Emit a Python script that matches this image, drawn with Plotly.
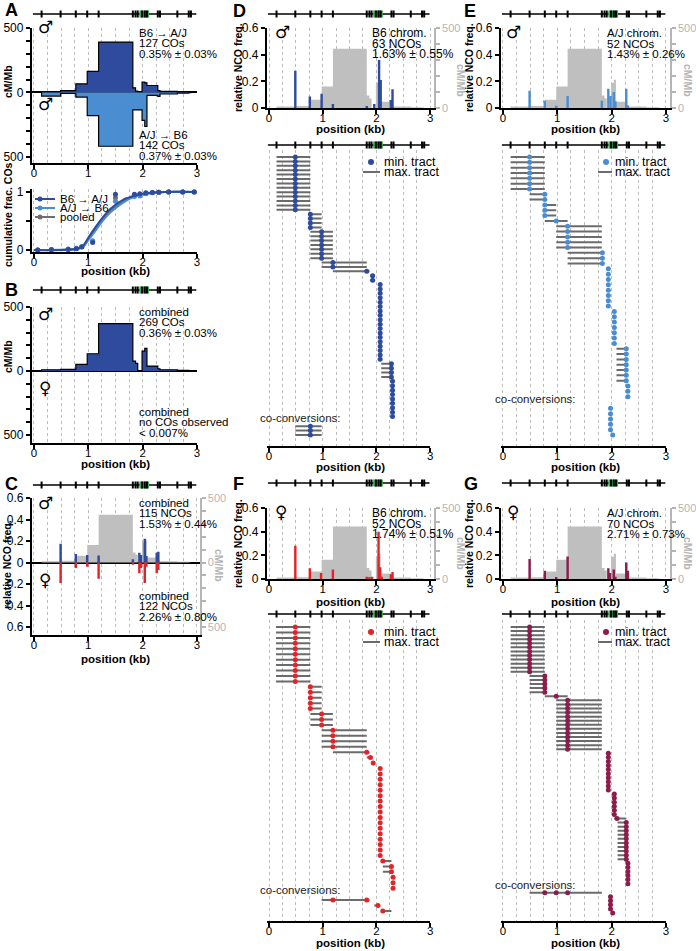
import plotly.graph_objects as go

W, H = 696, 951
FONT = "Liberation Sans, Arial, sans-serif"
SYM_FONT = "DejaVu Sans"

GRID = "#bdbdbd"
DARK_BLUE = "#2e4b9e"
LIGHT_BLUE = "#4a8dd0"
POOLED_GREY = "#6d6e71"
RED = "#e42329"
MAROON = "#8b1d4d"
MAP_GREY = "#bfbfbf"
AXIS_GREY = "#b5b5b5"
TRACT_GREY = "#6b6b6b"
HOT_GREEN = "#33b04a"

# ---------------- data ----------------
snp_kb = [0.14, 0.49, 0.77, 0.98, 1.19, 1.82, 1.87, 1.91, 1.99, 2.04, 2.08, 2.28, 2.32, 2.64, 2.85, 2.89]
hotspot_kb = [1.94, 2.12]

# CO maps (cM/Mb), bins between SNPs
map_edges = [0.14, 0.49, 0.77, 0.98, 1.19, 1.82, 1.87, 1.91, 1.99, 2.04, 2.08, 2.28, 2.32, 2.64, 2.85, 2.89]
cm_b6_to_aj = [2, 15, 67, 163, 391, 36, 10, 0, 80, 75, 54, 15, 8, 4, 2]
cm_aj_to_b6 = [28, 8, 36, 179, 417, 135, 135, 135, 217, 264, 23, 30, 12, 5, 2]
cm_combined = [10, 13, 52, 135, 370, 78, 60, 0, 156, 177, 39, 18, 10, 5, 3]

# cumulative fraction of COs
cum_fit_kb = [0.0, 0.8, 0.9, 1.0, 1.1, 1.2, 1.3, 1.4, 1.5, 1.6, 1.7, 1.8, 1.9, 2.0, 2.2, 2.4, 3.0]
cum_fit_b6_aj = [0, 0.02, 0.07, 0.21, 0.35, 0.48, 0.60, 0.70, 0.78, 0.84, 0.89, 0.92, 0.95, 0.97, 0.99, 1, 1]
cum_fit_pooled = [0, 0.02, 0.06, 0.19, 0.32, 0.45, 0.57, 0.67, 0.75, 0.81, 0.87, 0.91, 0.94, 0.96, 0.99, 1, 1]
cum_fit_aj_b6 = [0, 0.02, 0.05, 0.17, 0.29, 0.42, 0.54, 0.64, 0.72, 0.79, 0.85, 0.90, 0.93, 0.95, 0.98, 1, 1]
cum_pts_kb = [0.07, 0.32, 0.63, 0.78, 0.88, 1.08, 1.5, 1.85, 1.95, 2.06, 2.18, 2.3, 2.48, 2.74, 2.95]
cum_pts_b6_aj = [0, 0.005, 0.01, 0.02, 0.05, 0.13, 0.96, 0.96, 0.97, 0.985, 0.99, 0.995, 1, 1, 1]
cum_pts_aj_b6 = [0, 0.01, 0.015, 0.03, 0.06, 0.16, 0.84, 0.92, 0.93, 0.97, 0.985, 0.99, 1, 1, 1]
cum_pts_pooled = [0, 0.008, 0.013, 0.025, 0.055, 0.15, 0.90, 0.94, 0.95, 0.975, 0.988, 0.993, 1, 1, 1]

# relative NCO frequency
nco_c_kb = [0.49, 0.77, 0.98, 1.19, 1.82, 1.94, 1.97, 2.04, 2.07, 2.26, 2.29]
nco_c_male = [0.175, 0.08, 0.07, 0.065, 0.03, 0.09, 0.07, 0.22, 0.06, 0.09, 0.10]
nco_c_female = [0.19, 0.05, 0.04, 0.15, 0.02, 0.10, 0.05, 0.19, 0.04, 0.10, 0.07]
nco_d_kb = [0.49, 0.76, 0.98, 1.19, 1.82, 1.96, 2.05, 2.08, 2.27, 2.30]
nco_d = [0.28, 0.087, 0.107, 0.03, 0.013, 0.03, 0.36, 0.21, 0.06, 0.14]
nco_e_kb = [0.49, 0.77, 0.98, 1.19, 1.82, 1.94, 1.98, 2.04, 2.07, 2.27, 2.30]
nco_e = [0.13, 0.055, 0.017, 0.09, 0.055, 0.145, 0.09, 0.12, 0.05, 0.145, 0.017]
nco_f_kb = [0.49, 0.76, 0.97, 1.19, 1.82, 1.87, 1.92, 2.04, 2.07, 2.10, 2.27, 2.30]
nco_f = [0.28, 0.09, 0.05, 0.08, 0.02, 0.015, 0.02, 0.40, 0.10, 0.02, 0.04, 0.06]
nco_g_kb = [0.49, 0.77, 0.98, 1.19, 1.94, 1.97, 2.04, 2.07, 2.27, 2.30]
nco_g = [0.17, 0.07, 0.01, 0.19, 0.09, 0.05, 0.08, 0.02, 0.14, 0.07]

# NCO tracts: (min-tract SNPs, max-tract left, max-tract right, number of NCOs)
tracts_d = [([0.49], 0.14, 0.77, 13), ([0.77], 0.77, 0.98, 4), ([0.98], 0.77, 1.19, 7),
            ([1.19], 0.98, 1.82, 2), ([1.82], 1.19, 1.87, 1), ([1.93], 1.88, 1.96, 2),
            ([2.07], 2.07, 2.07, 18), ([2.28], 2.09, 2.28, 4), ([2.30], 2.29, 2.33, 9)]
coconv_d = [([0.77], 0.49, 0.98, 3)]
tracts_e = [([0.49], 0.14, 0.77, 7), ([0.77], 0.49, 0.77, 2), ([0.77], 0.77, 0.98, 3),
            ([0.98], 0.77, 1.19, 1), ([1.19], 0.98, 1.82, 5), ([1.83], 1.19, 1.83, 3),
            ([1.94], 1.93, 1.95, 8), ([2.05], 2.05, 2.05, 7), ([2.27], 2.09, 2.27, 7),
            ([2.30], 2.29, 2.32, 3)]
coconv_e = [([1.98], 1.97, 1.99, 5), ([2.02], 2.02, 2.02, 1)]
tracts_f = [([0.49], 0.13, 0.77, 11), ([0.77], 0.77, 0.98, 5), ([0.98], 0.77, 1.19, 3),
            ([1.19], 0.98, 1.82, 4), ([1.82], 1.19, 1.87, 1), ([1.89], 1.82, 1.91, 1),
            ([1.94], 1.91, 1.97, 1), ([2.07], 2.07, 2.07, 17), ([2.12], 2.12, 2.28, 1),
            ([2.28], 2.12, 2.28, 2), ([2.31], 2.29, 2.32, 3)]
coconv_f = [([1.19, 1.82], 0.98, 1.87, 1), ([2.03], 1.96, 2.04, 1), ([2.12], 2.12, 2.28, 1)]
tracts_g = [([0.49], 0.14, 0.77, 12), ([0.77], 0.49, 0.77, 5), ([0.98], 0.77, 1.19, 1),
            ([1.19], 0.98, 1.82, 13), ([1.94], 1.93, 1.95, 10), ([2.05], 2.05, 2.05, 6),
            ([2.10], 2.05, 2.27, 1), ([2.27], 2.11, 2.27, 10), ([2.30], 2.29, 2.32, 6)]
coconv_g = [([0.77, 0.98, 1.19], 0.49, 1.82, 1), ([1.98], 1.97, 1.99, 4), ([2.02], 2.02, 2.02, 1)]

# ---------------- layout helpers ----------------
COLS = {"L": (34.0, 54.3), "M": (269.0, 53.7), "R": (503.0, 54.3)}  # px of 0 kb, px per kb
axes = {}
shapes = []
notes = []


def ydom(top, bot):
    return [1 - bot / H, 1 - top / H]


def add_x(name, col, rng, anchor, size=11.5):
    x0, ppk = COLS[col]
    axes[name] = dict(
        domain=[(x0 + rng[0] * ppk) / W, (x0 + rng[1] * ppk) / W], range=rng, anchor=anchor,
        tickmode="array", tickvals=[0, 1, 2, 3], showline=True, linecolor="black", linewidth=2,
        ticks="outside", ticklen=4, tickwidth=1.5, tickcolor="black", ticklabelstandoff=-6,
        tickfont=dict(family=FONT, size=size, color="black"),
        showgrid=True, gridcolor=GRID, gridwidth=1, griddash="dot",
        minor=dict(tickmode="linear", tick0=0, dtick=0.25, showgrid=True, gridcolor=GRID,
                   gridwidth=1, griddash="dot"),
        zeroline=False, fixedrange=True, automargin=False)


def add_y(name, rng, vals, text, anchor, dom=None, side="left", color="black",
          overlaying=None, zero=False, size=12):
    d = dict(range=rng, anchor=anchor, side=side, tickmode="array", tickvals=vals, ticktext=text,
             showline=True, linecolor=color, linewidth=2, ticks="outside", ticklen=4,
             tickwidth=1.5, tickcolor=color, tickfont=dict(family=FONT, size=size, color=color),
             showgrid=False, zeroline=zero, zerolinecolor="black", zerolinewidth=2,
             fixedrange=True, automargin=False)
    if dom is not None:
        d["domain"] = ydom(*dom)
    if overlaying:
        d["overlaying"] = overlaying
    axes[name] = d


def note(x_px, y_px, s, size=11.5, color="black", bold=False, xanchor="left",
         yanchor="middle", angle=0, family=FONT):
    notes.append(dict(x=x_px / W, y=1 - y_px / H, xref="paper", yref="paper",
                      text="<b>%s</b>" % s if bold else s, showarrow=False,
                      xanchor=xanchor, yanchor=yanchor, textangle=angle,
                      font=dict(size=size, color=color, family=family)))


def snp_track(xref, y_px):
    yc, hh = 1 - y_px / H, 3.5 / H
    shapes.append(dict(type="line", xref=xref, yref="paper", x0=-0.02, x1=2.99, y0=yc, y1=yc,
                       line=dict(color="black", width=1.5)))
    shapes.append(dict(type="rect", xref=xref, yref="paper", x0=hotspot_kb[0], x1=hotspot_kb[1],
                       y0=yc - hh, y1=yc + hh, fillcolor=HOT_GREEN, line=dict(width=0)))
    for p in snp_kb:
        shapes.append(dict(type="line", xref=xref, yref="paper", x0=p, x1=p, y0=yc - hh,
                           y1=yc + hh, line=dict(color="black", width=2)))


def step_trace(vals, sign, xa, ya, fill, outline=True):
    xs = [map_edges[0]] + map_edges[:-1] + [map_edges[-1]]
    ys = [0] + [sign * v for v in vals] + [0]
    return go.Scatter(x=xs, y=ys, xaxis=xa, yaxis=ya, mode="lines", line_shape="hv",
                      fill="tozeroy", fillcolor=fill,
                      line=dict(color="black" if outline else fill, width=1.2 if outline else 0),
                      hoverinfo="skip")


def bars(xs, ys, sign, xa, ya, color):
    return go.Bar(x=xs, y=[sign * v for v in ys], xaxis=xa, yaxis=ya, width=0.045,
                  marker=dict(color=color, line=dict(width=0)), hoverinfo="skip")


fig = go.Figure()
k500 = list(range(-500, 501, 100))
k500_txt = ["500", "", "", "", "", "0", "", "", "", "", "500"]

# ---------------- A: CO maps ----------------
add_x("xaxis", "L", [-0.04, 3.0], "y")
add_y("yaxis", [-547, 500], k500, k500_txt, "x", dom=(28, 163), zero=True)
fig.add_trace(step_trace(cm_b6_to_aj, 1, "x", "y", DARK_BLUE))
fig.add_trace(step_trace(cm_aj_to_b6, -1, "x", "y", LIGHT_BLUE))
snp_track("x", 14)

# A: cumulative fraction
add_x("xaxis2", "L", [-0.04, 3.0], "y2")
add_y("yaxis2", [-0.035, 1.05], [0, 0.5, 1], ["0", "", "1"], "x2", dom=(189, 252))
for fit, pts, col in [(cum_fit_pooled, cum_pts_pooled, POOLED_GREY),
                      (cum_fit_aj_b6, cum_pts_aj_b6, LIGHT_BLUE),
                      (cum_fit_b6_aj, cum_pts_b6_aj, DARK_BLUE)]:
    fig.add_trace(go.Scatter(x=cum_fit_kb, y=fit, xaxis="x2", yaxis="y2", mode="lines",
                             line=dict(color=col, width=2, shape="spline"), hoverinfo="skip"))
    fig.add_trace(go.Scatter(x=cum_pts_kb, y=pts, xaxis="x2", yaxis="y2", mode="markers",
                             marker=dict(color=col, size=5), hoverinfo="skip"))

# ---------------- B ----------------
add_x("xaxis3", "L", [-0.04, 3.0], "y3")
add_y("yaxis3", [-562, 500], k500, k500_txt, "x3", dom=(307, 443), zero=True)
fig.add_trace(step_trace(cm_combined, 1, "x3", "y3", DARK_BLUE))
snp_track("x3", 290)

# ---------------- C ----------------
add_x("xaxis4", "L", [-0.04, 3.05], "y4")
add_y("yaxis4", [-561.7, 500], k500, k500_txt, "x4", dom=(498, 635), side="right",
      color=AXIS_GREY, size=11)
add_y("yaxis5", [-0.674, 0.6], [-0.6, -0.4, -0.2, 0, 0.2, 0.4, 0.6],
      ["0.6", "0.4", "0.2", "0", "0.2", "0.4", "0.6"], "x4", overlaying="y4", zero=True)
fig.add_trace(step_trace(cm_combined, 1, "x4", "y4", MAP_GREY, outline=False))
fig.add_trace(bars(nco_c_kb, nco_c_male, 1, "x4", "y5", DARK_BLUE))
fig.add_trace(bars(nco_c_kb, nco_c_female, -1, "x4", "y5", RED))
snp_track("x4", 485)

# ---------------- D-G histograms ----------------
hist_panels = [
    ("xaxis5", "x5", "M", "yaxis6", "y6", "yaxis7", "y7", (28, 108), nco_d_kb, nco_d, DARK_BLUE, 14),
    ("xaxis6", "x6", "R", "yaxis8", "y8", "yaxis9", "y9", (28, 108), nco_e_kb, nco_e, LIGHT_BLUE, 14),
    ("xaxis7", "x7", "M", "yaxis10", "y10", "yaxis11", "y11", (508, 579), nco_f_kb, nco_f, RED, 483),
    ("xaxis8", "x8", "R", "yaxis12", "y12", "yaxis13", "y13", (508, 579), nco_g_kb, nco_g, MAROON, 483),
]
for xn, xr, col, gyn, gyr, yn, yr, dom, kb, vals, color, track_y in hist_panels:
    add_x(xn, col, [-0.04, 3.07], gyr)
    add_y(gyn, [0, 500], list(range(0, 501, 100)), ["0", "", "", "", "", "500"], xr, dom=dom,
          side="right", color=AXIS_GREY, size=11)
    add_y(yn, [0, 0.6], [0, 0.2, 0.4, 0.6], ["0", "0.2", "0.4", "0.6"], xr, overlaying=gyr)
    fig.add_trace(step_trace(cm_combined, 1, xr, gyr, MAP_GREY, outline=False))
    fig.add_trace(bars(kb, vals, 1, xr, yr, color))
    snp_track(xr, track_y)

# ---------------- D-G tracts ----------------
CO_GAP = 2.2
tract_panels = [
    ("xaxis9", "x9", "M", "yaxis14", "y14", (150, 446, 157, 435), tracts_d, coconv_d, DARK_BLUE, 145),
    ("xaxis10", "x10", "R", "yaxis15", "y15", (150, 446, 157, 435), tracts_e, coconv_e, LIGHT_BLUE, 145),
    ("xaxis11", "x11", "M", "yaxis16", "y16", (620, 921, 627, 911), tracts_f, coconv_f, RED, 614),
    ("xaxis12", "x12", "R", "yaxis17", "y17", (620, 921, 627, 913), tracts_g, coconv_g, MAROON, 614),
]
for xn, xr, col, yn, yr, (top, bot, first, last), main, co, color, track_y in tract_panels:
    gx, gy, dx, dy = [], [], [], []
    row = 0
    for group_list, start in ((main, 0), (co, None)):
        if start is None:
            n_main = row
            row = n_main - 1 + CO_GAP
        for dots, lo, hi, n in group_list:
            for _ in range(n):
                if hi > lo:
                    gx += [lo, hi, None]
                    gy += [row, row, None]
                for p in dots:
                    dx.append(p)
                    dy.append(row)
                row += 1
    last_row = row - 1
    ppr = (last - first) / last_row
    add_x(xn, col, [-0.04, 3.0], yr)
    axes[yn] = dict(domain=ydom(top, bot), anchor=xr, visible=False, fixedrange=True,
                    range=[last_row + (bot - last) / ppr, -(first - top) / ppr])
    fig.add_trace(go.Scatter(x=gx, y=gy, xaxis=xr, yaxis=yr, mode="lines",
                             line=dict(color=TRACT_GREY, width=2), hoverinfo="skip"))
    fig.add_trace(go.Scatter(x=dx, y=dy, xaxis=xr, yaxis=yr, mode="markers",
                             marker=dict(color=color, size=5), hoverinfo="skip"))
    notes.append(dict(x=1.38, y=n_main - 0.6, xref=xr, yref=yr,
                      text="co-conversions:", showarrow=False, xanchor="right",
                      yanchor="middle", font=dict(family=FONT, size=11.5, color="#222")))
    snp_track(xr, track_y)

# ---------------- text ----------------
for letter, x, y in [("A", 3, 10), ("B", 3, 290), ("C", 3, 484), ("D", 231, 11),
                     ("E", 462, 11), ("F", 231, 484), ("G", 462, 484)]:
    note(x, y, letter, size=18, bold=True)

MALE, FEMALE = "\u2642", "\u2640"
for s, x, y in [(MALE, 45, 27), (MALE, 45, 104), (MALE, 45, 314), (FEMALE, 45, 388),
                (MALE, 45, 503), (FEMALE, 45, 580), (MALE, 282, 32), (MALE, 513, 32),
                (FEMALE, 281, 512), (FEMALE, 513, 512)]:
    note(x, y, s, size=17, family=SYM_FONT, xanchor="center")

stats_left = [
    (137, 33, ["B6 \u2192 A/J", "127 COs", "0.35% \u00b1 0.03%"]),
    (137, 135, ["A/J \u2192 B6", "142 COs", "0.37% \u00b1 0.03%"]),
    (137, 312, ["combined", "269 COs", "0.36% \u00b1 0.03%"]),
    (137, 412, ["combined", "no COs observed", "< 0.007%"]),
    (137, 503, ["combined", "115 NCOs", "1.53% \u00b1 0.44%"]),
    (137, 596, ["combined", "122 NCOs", "2.26% \u00b1 0.80%"]),
]
for x, y, lines in stats_left:
    for i, s in enumerate(lines):
        note(x, y + 10.3 * i, s, size=11.5)
stats_right = [
    (370, 33, ["B6 chrom.", "63 NCOs", "1.63% \u00b1 0.55%"], 12),
    (605, 33, ["A/J chrom.", "52 NCOs", "1.43% \u00b1 0.26%"], 11.5),
    (370, 513, ["B6 chrom.", "52 NCOs", "1.74% \u00b1 0.51%"], 12),
    (605, 513, ["A/J chrom.", "70 NCOs", "2.71% \u00b1 0.73%"], 11.5),
]
for x, y, lines, sz in stats_right:
    for i, s in enumerate(lines):
        note(x, y + 10.5 * i, s, size=sz)

# axis titles
for x, y, s in [(8, 82, "cM/Mb"), (8, 215, "cumulative frac. COs"), (8, 357, "cM/Mb"),
                (7, 565, "relative NCO freq."), (238, 68, "relative NCO freq."),
                (469, 68, "relative NCO freq."), (238, 544, "relative NCO freq."),
                (469, 544, "relative NCO freq.")]:
    note(x, y, s, size=10.5, bold=True, xanchor="center", angle=-90)
for x, y in [(219, 565), (461, 80), (688, 80), (461, 553), (688, 553)]:
    note(x, y, "cM/Mb", size=10.5, bold=True, color=AXIS_GREY, xanchor="center", angle=90)
for x, y in [(115, 271), (115, 464), (115, 659), (350, 129), (350, 467), (350, 602),
             (350, 943), (585, 129), (585, 467), (585, 602), (585, 943)]:
    note(x, y, "position (kb)", size=11.5, bold=True, xanchor="center")

# legends (drawn by hand so the rows stay as tight as in the original)
for y, label, col in [(199, "B6 \u2192 A/J", DARK_BLUE), (208, "A/J \u2192 B6", LIGHT_BLUE),
                      (217, "pooled", POOLED_GREY)]:
    yc = 1 - y / H
    shapes.append(dict(type="line", xref="paper", yref="paper", x0=35 / W, x1=55 / W, y0=yc,
                       y1=yc, line=dict(color=col, width=2)))
    shapes.append(dict(type="circle", xref="paper", yref="paper", x0=37.5 / W, x1=42.5 / W,
                       y0=yc - 2.5 / H, y1=yc + 2.5 / H, fillcolor=col, line=dict(width=0)))
    note(58, y, label, size=11.5)
for dot_x, line_x, text_x, y, col in [(371, (363, 380), 382, 162, DARK_BLUE),
                                      (606, (598, 612), 613, 162, LIGHT_BLUE),
                                      (371, (363, 380), 382, 632, RED),
                                      (606, (598, 612), 613, 632, MAROON)]:
    yc = 1 - y / H
    shapes.append(dict(type="circle", xref="paper", yref="paper", x0=(dot_x - 3) / W,
                       x1=(dot_x + 3) / W, y0=yc - 3 / H, y1=yc + 3 / H, fillcolor=col,
                       line=dict(width=0)))
    note(text_x, y, "min. tract", size=12.5)
    yl = 1 - (y + 10) / H
    shapes.append(dict(type="line", xref="paper", yref="paper", x0=line_x[0] / W,
                       x1=line_x[1] / W, y0=yl, y1=yl, line=dict(color=TRACT_GREY, width=2)))
    note(text_x, y + 10, "max. tract", size=12.5)

fig.update_layout(
    width=W, height=H, margin=dict(l=0, r=0, t=0, b=0),
    paper_bgcolor="white", plot_bgcolor="white", showlegend=False, barmode="overlay",
    font=dict(family=FONT, size=12, color="black"),
    shapes=shapes, annotations=notes, **axes)

# the page's default 8px body margin would shift the whole figure
fig.write_html("out.html", config={"displayModeBar": False},
               post_script="document.body.style.margin='0';")
